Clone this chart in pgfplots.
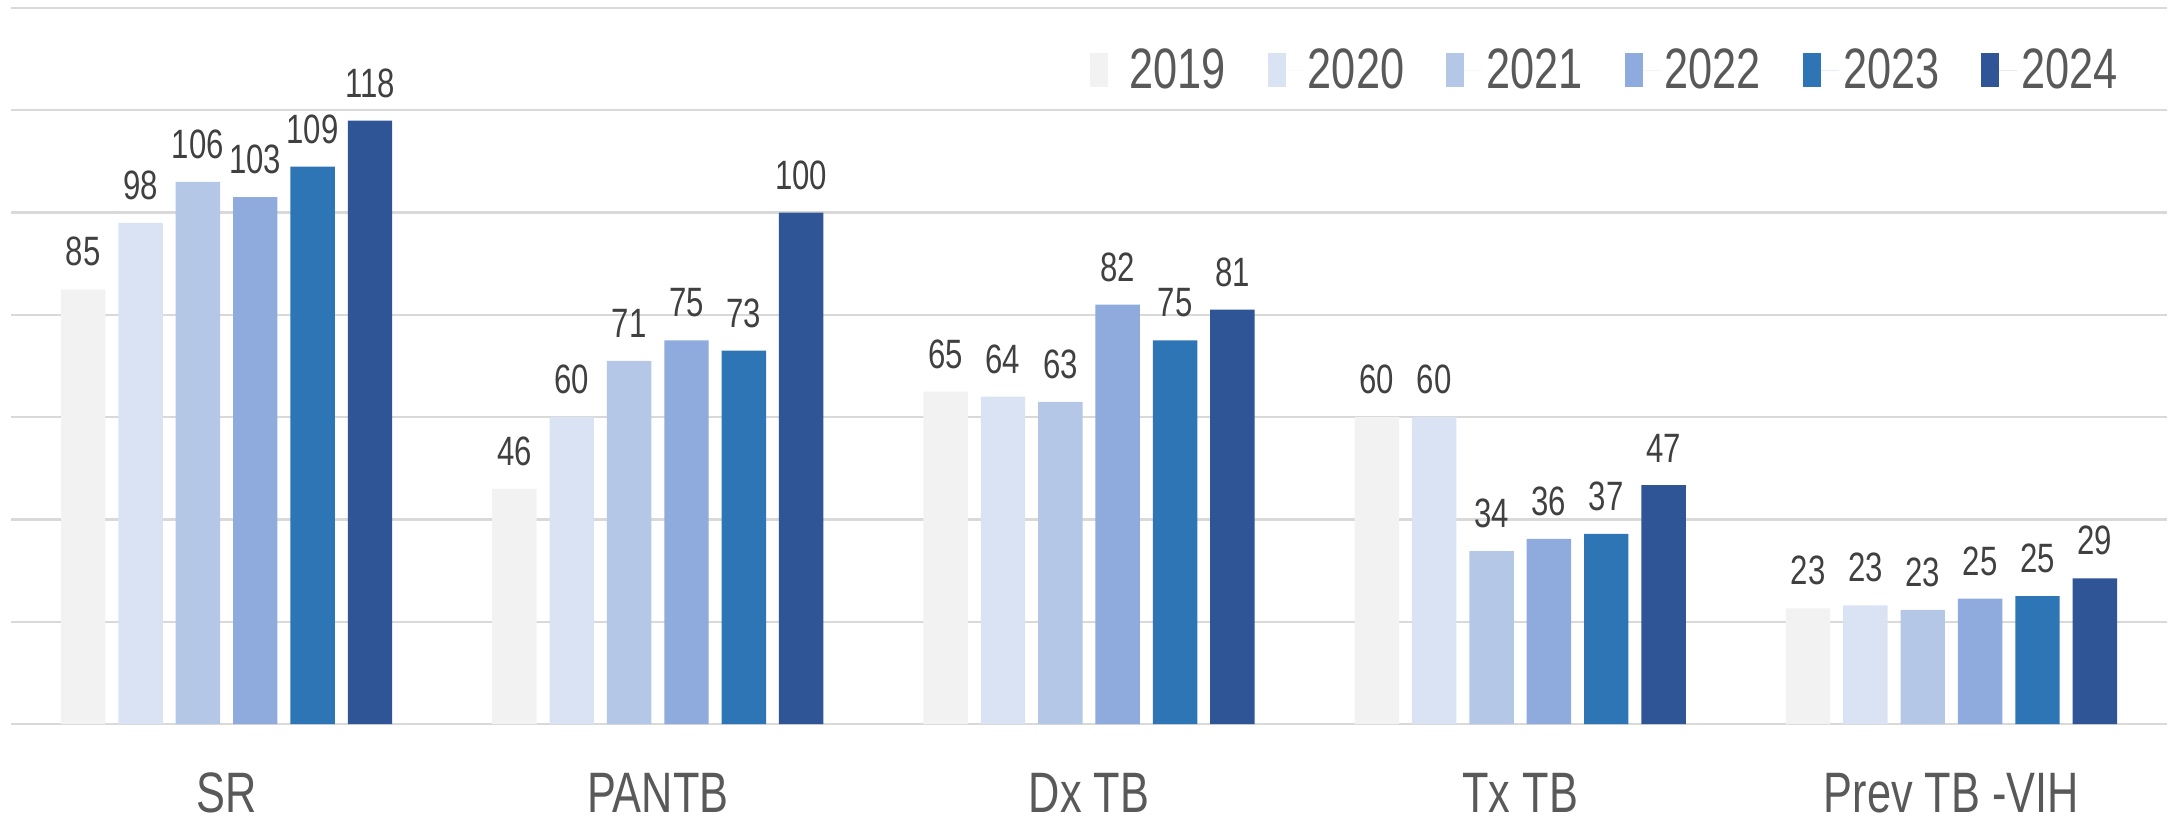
\documentclass[border=0pt]{standalone}
\usepackage{fontspec}
\setmainfont[FakeStretch=0.76]{Liberation Sans}
\usepackage{pgfplots}
\pgfplotsset{compat=1.18}
\definecolor{cA}{HTML}{F2F2F2}
\definecolor{cB}{HTML}{DAE3F3}
\definecolor{cC}{HTML}{B4C7E7}
\definecolor{cD}{HTML}{8FAADC}
\definecolor{cE}{HTML}{2E75B6}
\definecolor{cF}{HTML}{2F5597}
\definecolor{gridc}{HTML}{D9D9D9}
\definecolor{labc}{HTML}{404040}
\definecolor{tickc}{HTML}{595959}
\begin{document}
\begin{tikzpicture}
\begin{axis}[
  width=1078pt, height=358pt, scale only axis,
  ybar=6.47pt,
  xmin=-0.5, xmax=4.5, ymin=0, ymax=140,
  ytick={0,20,...,140}, yticklabels={},
  ymajorgrids, grid style={gridc, line width=1.2pt},
  axis line style={draw=none},
  major tick length=0pt,
  xtick={0,1,2,3,4},
  xticklabels={SR,PANTB,Dx TB,Tx TB,Prev TB -VIH},
  xticklabel style={anchor=base, yshift=-44pt, font=\fontsize{28.5}{30}\selectfont, text=tickc},
  bar width=0.103,
  clip=false,
  point meta=explicit symbolic,
  nodes near coords,
  nodes near coords style={font=\fontsize{20.5}{22}\selectfont, text=labc, anchor=south, yshift=8pt},
  legend columns=6,
  legend style={draw=none, fill=none, at={(0.982,0.955)}, anchor=north east,
    font=\fontsize{28.5}{30}\selectfont, text=tickc,
    /tikz/every even column/.append style={column sep=19pt}},
  legend image code/.code={\path (0pt,0pt) -- (18pt,0pt); \fill[#1] (0pt,-8.5pt) rectangle (9pt,8.5pt);},
]
\addplot[fill=cA, draw=none] coordinates {(0,85)[85] (1,46)[46] (2,65)[65] (3,60)[60] (4,22.6)[23]};
\addplot[fill=cB, draw=none] coordinates {(0,98)[98] (1,60)[60] (2,64)[64] (3,60)[60] (4,23.2)[23]};
\addplot[fill=cC, draw=none] coordinates {(0,106)[106] (1,71)[71] (2,63)[63] (3,33.8)[34] (4,22.3)[23]};
\addplot[fill=cD, draw=none] coordinates {(0,103)[103] (1,75)[75] (2,82)[82] (3,36.2)[36] (4,24.5)[25]};
\addplot[fill=cE, draw=none] coordinates {(0,109)[109] (1,73)[73] (2,75)[75] (3,37.2)[37] (4,25)[25]};
\addplot[fill=cF, draw=none] coordinates {(0,118)[118] (1,100)[100] (2,81)[81] (3,46.7)[47] (4,28.5)[29]};
\legend{2019,2020,2021,2022,2023,2024}
\coordinate (bl) at (rel axis cs:0,0);
\coordinate (tr) at (rel axis cs:1,1);
\end{axis}
\pgfresetboundingbox
\path ([shift={(-5.5pt,-49pt)}]bl) rectangle ([shift={(2.5pt,4pt)}]tr);
\end{tikzpicture}
\end{document}
